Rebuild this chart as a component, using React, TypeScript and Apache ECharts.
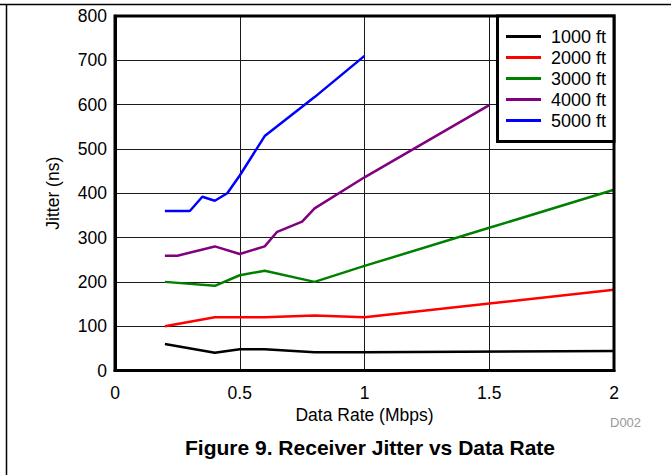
import React, { useEffect, useRef } from "react";
import * as echarts from "echarts";

const seriesNames = ["1000 ft", "2000 ft", "3000 ft", "4000 ft", "5000 ft"];
const seriesColors = ["#000000", "#ff0000", "#008000", "#800080", "#0000ff"];

const rate1000 = [0.2, 0.4, 0.5, 0.6, 0.8, 1.0, 2.0];
const jitter1000 = [60, 40, 48, 48, 41, 41, 44];

const rate2000 = [0.2, 0.4, 0.5, 0.6, 0.8, 1.0, 1.5, 2.0];
const jitter2000 = [100, 120, 120, 120, 124, 120, 151, 182];

const rate3000 = [0.2, 0.4, 0.5, 0.6, 0.8, 1.0, 1.5, 2.0];
const jitter3000 = [200, 191, 215, 225, 200, 236, 322, 408];

const rate4000 = [0.2, 0.25, 0.4, 0.5, 0.6, 0.65, 0.75, 0.8, 1.0, 1.5];
const jitter4000 = [259, 259, 280, 263, 280, 313, 336, 366, 436, 599];

const rate5000 = [0.2, 0.3, 0.35, 0.4, 0.45, 0.5, 0.6, 0.8, 1.0];
const jitter5000 = [360, 360, 392, 383, 400, 440, 529, 617, 710];

const rates = [rate1000, rate2000, rate3000, rate4000, rate5000];
const jitters = [jitter1000, jitter2000, jitter3000, jitter4000, jitter5000];

const xAxisName = "Data Rate (Mbps)";
const yAxisName = "Jitter (ns)";
const figureTitle = "Figure 9. Receiver Jitter vs Data Rate";
const figureId = "D002";

const FONT = "'Liberation Sans', Arial, Helvetica, sans-serif";

export default function App() {
  const ref = useRef<HTMLDivElement>(null);
  useEffect(() => {
    if (!ref.current) return;
    const chart = echarts.init(ref.current, null, { renderer: "svg" });
    const series = seriesNames.map((name, i) => ({
      name,
      type: "line",
      data: rates[i].map((x, j) => [x, jitters[i][j]]),
      symbol: "none",
      showSymbol: false,
      color: seriesColors[i],
      lineStyle: { width: 2.5, color: seriesColors[i] },
      z: 2,
    }));
    chart.setOption({
      animation: false,
      backgroundColor: "#ffffff",
      textStyle: { fontFamily: FONT },
      grid: {
        left: 115,
        right: 57,
        top: 16,
        bottom: 104.5,
        show: true,
        borderColor: "#000",
        borderWidth: 3,
        z: 3,
      },
      xAxis: {
        type: "value",
        min: 0,
        max: 2,
        interval: 0.5,
        name: xAxisName,
        nameLocation: "middle",
        nameGap: 25,
        nameTextStyle: { fontSize: 17.5, color: "#000", fontFamily: FONT },
        axisLine: { show: true, lineStyle: { color: "#000", width: 3 } },
        axisTick: { show: false },
        axisLabel: { fontSize: 17.5, color: "#000", margin: 13, fontFamily: FONT },
        splitLine: { show: true, lineStyle: { color: "#1a1a1a", width: 1 } },
      },
      yAxis: {
        type: "value",
        min: 0,
        max: 800,
        interval: 100,
        name: yAxisName,
        nameLocation: "middle",
        nameGap: 53,
        nameTextStyle: { fontSize: 17.5, color: "#000", fontFamily: FONT },
        axisLine: { show: true, lineStyle: { color: "#000", width: 3 } },
        axisTick: { show: false },
        axisLabel: { fontSize: 17.5, color: "#000", margin: 8, fontFamily: FONT },
        splitLine: { show: true, lineStyle: { color: "#1a1a1a", width: 1 } },
      },
      legend: {
        data: seriesNames,
        orient: "vertical",
        left: 506,
        top: 26,
        padding: 0,
        itemGap: 0,
        itemWidth: 35,
        itemHeight: 3,
        icon: "rect",
        z: 6,
        textStyle: {
          fontSize: 18,
          lineHeight: 21,
          color: "#000",
          fontFamily: FONT,
          padding: [0, 0, 0, 5],
        },
      },
      graphic: [
        {
          type: "rect",
          z: 5,
          shape: { x: 497.5, y: 16, width: 116.5, height: 125.5 },
          style: { fill: "#fff", stroke: "#000", lineWidth: 3 },
        },
        {
          type: "line",
          z: 5,
          shape: { x1: 0, y1: 4.5, x2: 671, y2: 4.5 },
          style: { stroke: "#000", lineWidth: 1.5 },
        },
        {
          type: "line",
          z: 5,
          shape: { x1: 6.5, y1: 4, x2: 6.5, y2: 475 },
          style: { stroke: "#000", lineWidth: 1.5 },
        },
        {
          type: "text",
          z: 5,
          x: 370,
          y: 447,
          style: {
            text: figureTitle,
            font: `bold 21px ${FONT}`,
            fill: "#000",
            textAlign: "center",
            textVerticalAlign: "middle",
          },
        },
        {
          type: "text",
          z: 5,
          x: 610,
          y: 422,
          style: {
            text: figureId,
            font: `13px ${FONT}`,
            fill: "#999",
            textAlign: "left",
            textVerticalAlign: "middle",
          },
        },
      ],
      series,
    });
    return () => chart.dispose();
  }, []);
  return (
    <div
      ref={ref}
      style={{ position: "fixed", left: 0, top: 0, width: 671, height: 475, background: "#fff" }}
    />
  );
}
